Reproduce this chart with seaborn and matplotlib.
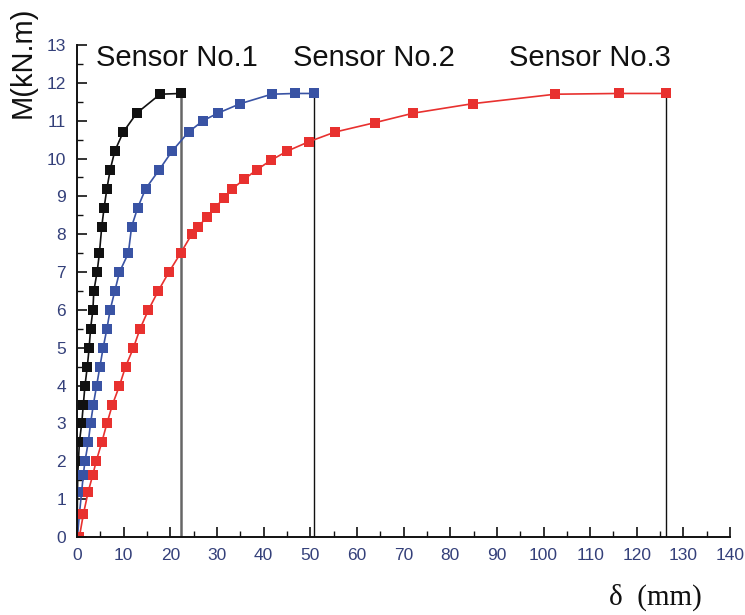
import numpy as np
import matplotlib
matplotlib.use("Agg")
import matplotlib.pyplot as plt
from matplotlib.ticker import MultipleLocator
import seaborn as sns
import pandas as pd

# load steps (kN.m) and deflection (mm) for each sensor
m_s1 = [0, 0.6, 1.2, 1.65, 2.0, 2.5, 3.0, 3.5, 4.0, 4.5, 5.0, 5.5, 6.0, 6.5, 7.0, 7.5,
        8.2, 8.7, 9.2, 9.7, 10.2, 10.7, 11.2, 11.7, 11.72]
d_s1 = [0, 0.05, 0.1, 0.15, 0.3, 0.5, 1.0, 1.35, 1.7, 2.2, 2.6, 2.9, 3.4, 3.6, 4.3, 4.8,
        5.3, 5.8, 6.4, 7.1, 8.1, 9.9, 12.8, 17.8, 22.3]

m_s2 = [0, 0.6, 1.2, 1.65, 2.0, 2.5, 3.0, 3.5, 4.0, 4.5, 5.0, 5.5, 6.0, 6.5, 7.0, 7.5,
        8.2, 8.7, 9.2, 9.7, 10.2, 10.7, 11.0, 11.2, 11.45, 11.7, 11.72, 11.72]
d_s2 = [0.1, 0.5, 1.0, 1.35, 1.7, 2.4, 2.9, 3.5, 4.2, 4.9, 5.6, 6.4, 7.1, 8.1, 9.1, 11.0,
        11.7, 13.0, 14.7, 17.6, 20.4, 23.9, 27.0, 30.2, 35.0, 41.7, 46.7, 50.9]

m_s3 = [0, 0.6, 1.2, 1.65, 2.0, 2.5, 3.0, 3.5, 4.0, 4.5, 5.0, 5.5, 6.0, 6.5, 7.0, 7.5,
        8.0, 8.2, 8.45, 8.7, 8.95, 9.2, 9.45, 9.7, 9.95, 10.2, 10.45, 10.7, 10.95, 11.2,
        11.45, 11.7, 11.72, 11.72]
d_s3 = [0.5, 1.35, 2.4, 3.4, 4.1, 5.3, 6.4, 7.6, 9.1, 10.4, 12.1, 13.5, 15.3, 17.4, 19.7, 22.2,
        24.6, 26.0, 27.8, 29.6, 31.4, 33.3, 35.8, 38.5, 41.5, 45.1, 49.8, 55.3, 63.9, 72.1,
        84.8, 102.5, 116.1, 126.3]

sensors = ["Sensor No.1", "Sensor No.2", "Sensor No.3"]
colors = {"Sensor No.1": "#111111", "Sensor No.2": "#3953a4", "Sensor No.3": "#e8312f"}

df = pd.concat([
    pd.DataFrame({"d": d, "M": m, "sensor": s, "order": np.arange(len(d))})
    for d, m, s in zip([d_s1, d_s2, d_s3], [m_s1, m_s2, m_s3], sensors)
])

sns.set_style("ticks")
plt.rcParams["font.family"] = ["Liberation Sans", "DejaVu Sans"]

fig = plt.figure(figsize=(7.45, 6.15), dpi=100)
ax = fig.add_axes([0.1034, 0.1268, 0.8766, 0.80])

sns.lineplot(data=df, x="d", y="M", hue="sensor", style="sensor",
             markers={s: "s" for s in sensors}, dashes=False, palette=colors,
             markersize=7.5, markeredgewidth=0, linewidth=1.2,
             sort=False, estimator=None, units="sensor", legend=False, ax=ax)

# vertical drop lines at the last reading of each sensor
ends = [(d_s1[-1], m_s1[-1], "#666666", 1.8),
        (d_s2[-1], m_s2[-1], "#111111", 1.0),
        (d_s3[-1], m_s3[-1], "#111111", 1.0)]
for x, top, c, lw in ends:
    ax.vlines(x, 0, top, color=c, lw=lw, zorder=1)

# sensor captions
for s, xc in zip(sensors, [21.4, 63.7, 110.0]):
    ax.text(xc, 12.65, s, ha="center", va="center", fontsize=21, color="#111111")

ax.set_xlim(0, 140)
ax.set_ylim(0, 13)
ax.xaxis.set_major_locator(MultipleLocator(10))
ax.xaxis.set_minor_locator(MultipleLocator(5))
ax.yaxis.set_major_locator(MultipleLocator(1))
ax.yaxis.set_minor_locator(MultipleLocator(0.5))
ax.tick_params(which="major", direction="in", length=7, width=1.2, colors="#111111",
               labelsize=12.5, labelcolor="#34407a")
ax.tick_params(axis="x", which="major", pad=8)
ax.tick_params(axis="y", which="major", pad=8)
ax.tick_params(which="minor", direction="in", length=4, width=1.0, colors="#111111")

for side in ["top", "right"]:
    ax.spines[side].set_visible(False)
for side in ["left", "bottom"]:
    ax.spines[side].set_linewidth(1.4)
    ax.spines[side].set_color("#111111")

ax.set_xlabel("")
ax.set_ylabel("")
fig.text(0.031, 0.899, "M(kN.m)", rotation=90, ha="center", va="center",
         fontsize=21, color="#111111")
fig.text(0.88, 0.029, "δ  (mm)", ha="center", va="center", fontsize=21,
         family=["Liberation Serif", "DejaVu Serif"], color="#111111")

fig.savefig("out.png", dpi=100)
